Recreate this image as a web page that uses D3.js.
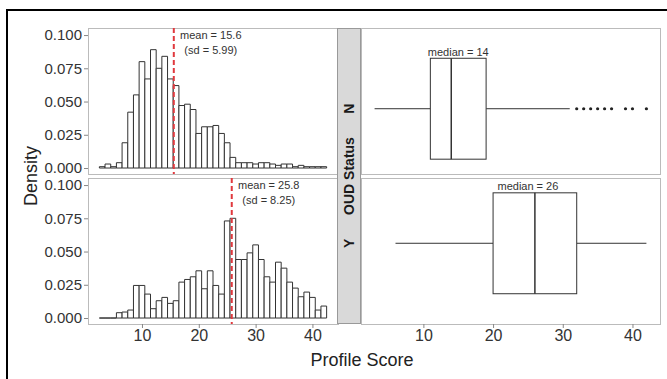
<!DOCTYPE html>
<html>
<head>
<meta charset="utf-8">
<script src="https://cdn.jsdelivr.net/npm/d3@7"></script>
<style>
  body { margin: 0; background: #fff; }
  svg text { font-family: "Liberation Sans", Arial, sans-serif; }
</style>
</head>
<body>
<div id="chart"></div>
<script>
// histogram bins (centres, width 1)
var binCentres = [3,4,5,6,7,8,9,10,11,12,13,14,15,16,17,18,19,20,21,22,
                  23,24,25,26,27,28,29,30,31,32,33,34,35,36,37,38,39,40,41,42];
var densityN = [0.001,0.003,0.001,0.004,0.019,0.042,0.055,0.080,0.067,0.089,
                0.075,0.084,0.067,0.062,0.047,0.048,0.044,0.026,0.031,0.031,
                0.032,0.026,0.019,0.008,0.004,0.004,0.004,0.003,0.004,0.004,
                0.003,0.002,0.003,0.003,0.001,0.002,0.001,0.001,0.001,0.001];
var densityY = [0,0,0,0.004,0.0045,0.006,0.0245,0.0245,0.018,0.007,
                0.013,0.0155,0.011,0.013,0.027,0.029,0.031,0.0355,0.022,0.0355,
                0.0245,0.018,0.073,0.075,0.044,0.044,0.049,0.055,0.044,0.031,
                0.027,0.042,0.0375,0.027,0.0225,0.016,0.0195,0.0155,0.006,0.009];

var oudStatus = ["N", "Y"];
var means = [15.6, 25.8];
var sds = [5.99, 8.25];
var whiskLo = [3, 6];
var q1 = [11, 20];
var medians = [14, 26];
var q3 = [19, 32];
var whiskHi = [31, 42];
var outliersN = [32, 33, 34, 35, 36, 37, 39, 40, 42];
var medianLabelX = [15, 25];

var yTicks = [0, 0.025, 0.05, 0.075, 0.1];
var xTicks = [10, 20, 30, 40];

var svg = d3.select("#chart").append("svg")
    .attr("width", 667).attr("height", 379);

// outer frame (only top and left edges visible)
svg.append("rect")
    .attr("x", 7).attr("y", 10).attr("width", 700).attr("height", 400)
    .attr("fill", "none").attr("stroke", "#000").attr("stroke-width", 2);

var panelsY = [[28, 174], [178, 324]];
var leftX = [88, 338];
var rightX = [361, 660];

var xL = d3.scaleLinear().domain([0.5, 44.5]).range(leftX);
var xR = d3.scaleLinear().domain([1.05, 43.95]).range(rightX);
var yR = d3.scaleLinear().domain([0.4, 2.6]).range([28, 324]);

var textCol = "#333";
var lineCol = "#333";

var hists = [densityN, densityY];

hists.forEach(function(dens, p) {
    var y = d3.scaleLinear().domain([-0.0045, 0.1053]).range([panelsY[p][1], panelsY[p][0]]);
    var g = svg.append("g");

    g.append("rect")
        .attr("x", leftX[0] + 0.5).attr("y", panelsY[p][0] + 0.5)
        .attr("width", leftX[1] - leftX[0]).attr("height", panelsY[p][1] - panelsY[p][0])
        .attr("fill", "#fff").attr("stroke", "#bbb").attr("stroke-width", 1);

    // y axis
    var ax = g.append("g").attr("transform", "translate(" + leftX[0] + ",0)")
        .call(d3.axisLeft(y).tickValues(yTicks).tickFormat(d3.format(".3f")).tickSize(4).tickPadding(2));
    ax.select(".domain").remove();
    ax.selectAll("line").attr("stroke", "#888");
    ax.selectAll("text").attr("font-size", 15).attr("fill", textCol)
        .attr("font-family", "Liberation Sans, Arial, sans-serif");

    // bars
    g.selectAll(".bar").data(dens).enter().append("path")
        .attr("class", "bar")
        .attr("d", function(d, i) {
            var x0 = xL(binCentres[i] - 0.5), x1 = xL(binCentres[i] + 0.5);
            return "M" + x0 + "," + y(0) + "V" + y(d) + "H" + x1 + "V" + y(0) + "Z";
        })
        .attr("fill", "#fff").attr("stroke", lineCol).attr("stroke-width", 1);

    // mean line
    g.append("line")
        .attr("x1", xL(means[p])).attr("x2", xL(means[p]))
        .attr("y1", panelsY[p][0]).attr("y2", panelsY[p][1])
        .attr("stroke", "#e0393e").attr("stroke-width", 2)
        .attr("stroke-dasharray", "5,3");

    var tx = xL(means[p]) + 37;
    g.append("text").attr("x", tx).attr("y", panelsY[p][0] + 11)
        .attr("text-anchor", "middle").attr("font-size", 11).attr("fill", textCol)
        .text("mean = " + means[p]);
    g.append("text").attr("x", tx).attr("y", panelsY[p][0] + 26)
        .attr("text-anchor", "middle").attr("font-size", 11).attr("fill", textCol)
        .text("(sd = " + sds[p] + ")");
});

// right panels (borders)
panelsY.forEach(function(py) {
    svg.append("rect")
        .attr("x", rightX[0] + 0.5).attr("y", py[0] + 0.5)
        .attr("width", rightX[1] - rightX[0]).attr("height", py[1] - py[0])
        .attr("fill", "#fff").attr("stroke", "#bbb").attr("stroke-width", 1);
});

// boxplots
var bw = (yR(1.375) - yR(0.625));
oudStatus.forEach(function(s, i) {
    var cy = yR(i + 1);
    var g = svg.append("g");
    g.append("line").attr("x1", xR(whiskLo[i])).attr("x2", xR(q1[i]))
        .attr("y1", cy).attr("y2", cy).attr("stroke", lineCol);
    g.append("line").attr("x1", xR(q3[i])).attr("x2", xR(whiskHi[i]))
        .attr("y1", cy).attr("y2", cy).attr("stroke", lineCol);
    g.append("rect").attr("x", xR(q1[i])).attr("y", cy - bw / 2)
        .attr("width", xR(q3[i]) - xR(q1[i])).attr("height", bw)
        .attr("fill", "#fff").attr("stroke", lineCol);
    g.append("line").attr("x1", xR(medians[i])).attr("x2", xR(medians[i]))
        .attr("y1", cy - bw / 2).attr("y2", cy + bw / 2)
        .attr("stroke", lineCol).attr("stroke-width", 1.5);
    g.append("text").attr("x", xR(medianLabelX[i])).attr("y", cy - bw / 2 - 2.5)
        .attr("text-anchor", "middle").attr("font-size", 11).attr("fill", textCol)
        .text("median = " + medians[i]);
});

svg.selectAll(".outlier").data(outliersN).enter().append("circle")
    .attr("class", "outlier")
    .attr("cx", function(d) { return xR(d); })
    .attr("cy", yR(1))
    .attr("r", 1.6)
    .attr("fill", "#222");

// strip
svg.append("rect").attr("x", 337.5).attr("y", 28.5).attr("width", 23).attr("height", 295)
    .attr("fill", "#d9d9d9").attr("stroke", "#999");
function stripText(t, cy) {
    svg.append("text")
        .attr("transform", "translate(354," + cy + ") rotate(-90)")
        .attr("text-anchor", "middle").attr("font-size", 14).attr("font-weight", "bold")
        .attr("fill", "#1a1a1a").text(t);
}
stripText("N", yR(1));
stripText("OUD Status", 176);
stripText("Y", yR(2));

// x axes
[[xL, leftX], [xR, rightX]].forEach(function(a) {
    var ax = svg.append("g").attr("transform", "translate(0," + panelsY[1][1] + ")")
        .call(d3.axisBottom(a[0]).tickValues(xTicks).tickSize(4).tickPadding(2));
    ax.select(".domain").remove();
    ax.selectAll("line").attr("stroke", "#888");
    ax.selectAll("text").attr("font-size", 16).attr("fill", textCol)
        .attr("font-family", "Liberation Sans, Arial, sans-serif");
});

// axis titles
svg.append("text").attr("x", 362).attr("y", 366)
    .attr("text-anchor", "middle").attr("font-size", 18).attr("fill", "#222")
    .text("Profile Score");
svg.append("text").attr("transform", "translate(37,176) rotate(-90)")
    .attr("text-anchor", "middle").attr("font-size", 18).attr("fill", "#222")
    .text("Density");
</script>
</body>
</html>
